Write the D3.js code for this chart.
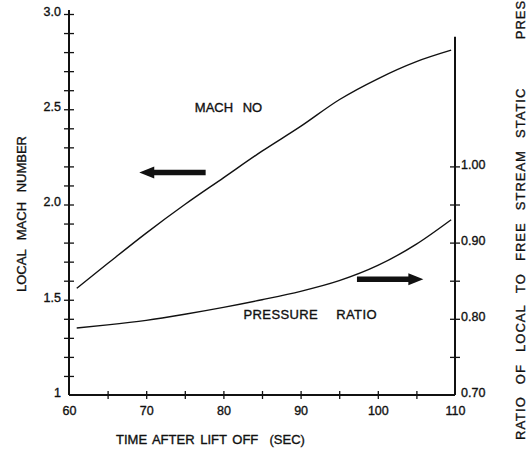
<!DOCTYPE html>
<html>
<head>
<meta charset="utf-8">
<script src="https://cdn.jsdelivr.net/npm/d3@7"></script>
<style>
  body { margin: 0; background: #fff; }
  svg { display: block; }
  text { font-family: "Liberation Sans", Arial, sans-serif; fill: #111; stroke: #111; stroke-width: 0.35; white-space: pre; }
</style>
</head>
<body>
<svg width="528" height="450"></svg>
<script>
// time after lift off (sec)
const machTime  = [61, 65, 70, 75, 80, 85, 90, 95, 100, 105, 109.5];
const machNo    = [1.56, 1.69, 1.85, 2.00, 2.14, 2.28, 2.41, 2.55, 2.66, 2.75, 2.81];

const presTime  = [61, 65, 70, 75, 80, 85, 90, 95, 100, 105, 109.5];
const presRatio = [0.788, 0.792, 0.798, 0.806, 0.815, 0.825, 0.836, 0.850, 0.870, 0.898, 0.930];

const timeTicks  = [60, 70, 80, 90, 100, 110];
const timeLabels = ["60", "70", "80", "90", "100", "110"];
const machTicks  = [1.0, 1.5, 2.0, 2.5, 3.0];
const machLabels = ["1", "1.5", "2.0", "2.5", "3.0"];
const presTicks  = [0.70, 0.80, 0.90, 1.00];
const presLabels = ["0.70", "0.80", "0.90", "1.00"];

const svg = d3.select("svg");

const x  = d3.scaleLinear([60, 110], [69, 455]);
const yL = d3.scaleLinear([1, 3], [395, 14]);
const yR = d3.scaleLinear([0.70, 1.20], [395, 14]);

// crossing "+" ticks
function crossTicks(g, horiz) {
  g.select(".domain").remove();
  g.selectAll(".tick line").attr("stroke", "#111").attr("stroke-width", 1.3);
  if (horiz) g.selectAll(".tick line").attr("y1", -4).attr("y2", 4);
  else g.selectAll(".tick line").attr("x1", -5).attr("x2", 5);
}

// left axis: minor ticks every 0.1
svg.append("g")
  .attr("transform", `translate(${x(60)},0)`)
  .call(d3.axisLeft(yL).tickValues(yL.ticks(20).filter(d => d > 1)).tickFormat(""))
  .call(g => crossTicks(g, false));

const leftLab = svg.append("g")
  .attr("transform", `translate(${x(60)},0)`)
  .call(d3.axisLeft(yL).tickValues(machTicks).tickSize(0).tickPadding(8)
    .tickFormat((d, i) => machLabels[i]))
  .call(g => g.select(".domain").remove());
leftLab.selectAll("text").attr("font-size", 12.5).attr("dy", "0.1em");

svg.append("line")
  .attr("x1", x(60)).attr("x2", x(60))
  .attr("y1", yL(1)).attr("y2", yL(3) - 4)
  .attr("stroke", "#111").attr("stroke-width", 2);

// right axis
svg.append("g")
  .attr("transform", `translate(${x(110)},0)`)
  .call(d3.axisRight(yR).tickValues([0.75, 0.80, 0.85, 0.90, 0.95, 1.00]).tickFormat(""))
  .call(g => crossTicks(g, false));

const rightLab = svg.append("g")
  .attr("transform", `translate(${x(110)},0)`)
  .call(d3.axisRight(yR).tickValues(presTicks).tickSize(0).tickPadding(6)
    .tickFormat((d, i) => presLabels[i]))
  .call(g => g.select(".domain").remove());
rightLab.selectAll("text").attr("font-size", 12.5).attr("dy", "0.15em");

svg.append("line")
  .attr("x1", x(110)).attr("x2", x(110))
  .attr("y1", yR(0.70)).attr("y2", yR(1.17))
  .attr("stroke", "#111").attr("stroke-width", 2);

// bottom axis
svg.append("g")
  .attr("transform", `translate(0,${yL(1)})`)
  .call(d3.axisBottom(x).tickValues([65, 70, 75, 80, 85, 90, 95, 100, 105]).tickFormat(""))
  .call(g => crossTicks(g, true));

const botLab = svg.append("g")
  .attr("transform", `translate(0,${yL(1)})`)
  .call(d3.axisBottom(x).tickValues(timeTicks).tickSize(0).tickPadding(11)
    .tickFormat((d, i) => timeLabels[i]))
  .call(g => g.select(".domain").remove());
botLab.selectAll("text").attr("font-size", 12.5);

svg.append("line")
  .attr("x1", x(60)).attr("x2", x(110))
  .attr("y1", yL(1)).attr("y2", yL(1))
  .attr("stroke", "#111").attr("stroke-width", 2);

// curves
const machLine = d3.line()
  .x((d, i) => x(machTime[i]))
  .y(d => yL(d))
  .curve(d3.curveMonotoneX);

const presLine = d3.line()
  .x((d, i) => x(presTime[i]))
  .y(d => yR(d))
  .curve(d3.curveMonotoneX);

svg.append("path").datum(machNo)
  .attr("d", machLine)
  .attr("fill", "none").attr("stroke", "#111").attr("stroke-width", 1.4);

svg.append("path").datum(presRatio)
  .attr("d", presLine)
  .attr("fill", "none").attr("stroke", "#111").attr("stroke-width", 1.4);

// arrows
function arrow(x0, x1, y, dir) {
  // dir = -1 points left (tip at x0), +1 points right (tip at x1)
  const tip = dir < 0 ? x0 : x1;
  const tail = dir < 0 ? x1 : x0;
  const hl = 15 * dir, hw = 6, sw = 2.8;
  const p = d3.path();
  p.moveTo(tip, y);
  p.lineTo(tip - hl, y - hw);
  p.lineTo(tip - hl, y - sw);
  p.lineTo(tail, y - sw);
  p.lineTo(tail, y + sw);
  p.lineTo(tip - hl, y + sw);
  p.lineTo(tip - hl, y + hw);
  p.closePath();
  svg.append("path").attr("d", p.toString()).attr("fill", "#111");
}
arrow(x(69.1), x(77.7), yL(2.168), -1);
arrow(x(97.3), x(105.9), yR(0.852), 1);

// curve labels
svg.append("text")
  .attr("x", x(76.3)).attr("y", yL(2.485))
  .attr("font-size", 13)
  .attr("word-spacing", 6)
  .text("MACH NO");

svg.append("text")
  .attr("x", x(82.6)).attr("y", yR(0.80))
  .attr("font-size", 13).attr("letter-spacing", 0.4)
  .attr("word-spacing", 14)
  .text("PRESSURE RATIO");

// axis titles
svg.append("text")
  .attr("x", 116).attr("y", 444)
  .attr("font-size", 13)
  .attr("word-spacing", 2)
  .text("TIME AFTER LIFT OFF  (SEC)");

svg.append("text")
  .attr("transform", "translate(26,292) rotate(-90)")
  .attr("font-size", 13)
  .attr("word-spacing", 6)
  .text("LOCAL MACH NUMBER");

svg.append("text")
  .attr("transform", "translate(525,440) rotate(-90)")
  .attr("font-size", 13).attr("letter-spacing", 1)
  .attr("word-spacing", 7.5)
  .text("RATIO OF LOCAL TO FREE STREAM STATIC    PRESSURE");
</script>
</body>
</html>
